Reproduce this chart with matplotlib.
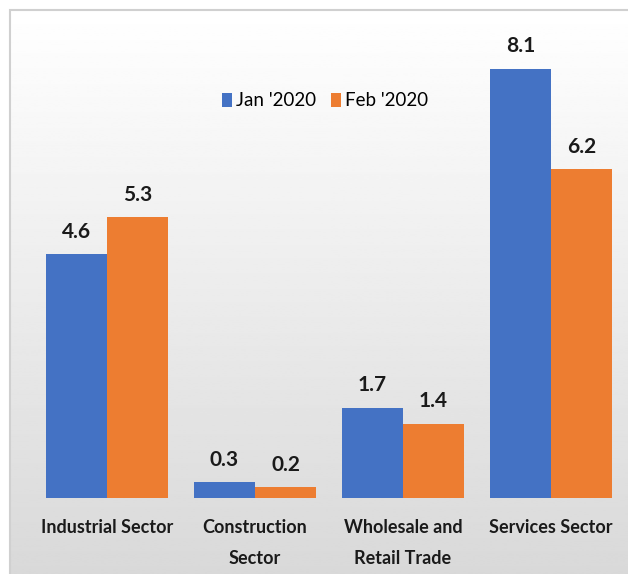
import numpy as np
import matplotlib.pyplot as plt
from matplotlib.patches import Rectangle

sectors = ['Industrial Sector', 'Construction\nSector', 'Wholesale and\nRetail Trade', 'Services Sector']
jan_2020 = [4.6, 0.3, 1.7, 8.1]
feb_2020 = [5.3, 0.2, 1.4, 6.2]
series_names = ["Jan '2020", "Feb '2020"]

blue = '#4472c4'
orange = '#ed7d31'
font = ['Lato', 'DejaVu Sans']

fig = plt.figure(figsize=(6.28, 5.74), dpi=100)
fig.patch.set_facecolor('white')

# axes covering whole figure; data coords chosen so baseline/scale match
px_w, px_h = 628, 574
x0_px, step_px = 107, 148
base_px, unit_px = 498, 53
ax = fig.add_axes([0, 0, 1, 1])
ax.set_xlim(-x0_px / step_px, (px_w - x0_px) / step_px)
ax.set_ylim(-(px_h - base_px) / unit_px, base_px / unit_px)
ax.axis('off')

# gradient panel
xl, xr = ax.get_xlim()
yb, yt = ax.get_ylim()
panel_left = xl + 10 / step_px
panel_top = yt - 10 / unit_px
grad = np.linspace(1.0, 0.85, 256).reshape(-1, 1)
ax.imshow(grad, cmap='gray', vmin=0, vmax=1, aspect='auto',
          extent=[panel_left, xr, yb, panel_top], zorder=0)
ax.add_patch(Rectangle((panel_left, yb - 1), xr - panel_left + 1, panel_top - yb + 1,
                       fill=False, ec='#d0d0d0', lw=1.5, zorder=1))

x = np.arange(len(sectors))
w = 61 / step_px
b1 = ax.bar(x - w / 2, jan_2020, w, color=blue, label=series_names[0], zorder=3)
b2 = ax.bar(x + w / 2, feb_2020, w, color=orange, label=series_names[1], zorder=3)

for bars, vals in ((b1, jan_2020), (b2, feb_2020)):
    for r, v in zip(bars, vals):
        ax.annotate(f'{v:.1f}', (r.get_x() + r.get_width() / 2, v),
                    xytext=(0, 9), textcoords='offset points',
                    ha='center', va='bottom', fontsize=15, fontweight='bold',
                    family=font, color='#1a1a1a', zorder=4)

for xi, lab in zip(x, sectors):
    ax.text(xi, -0.40, lab, ha='center', va='top', fontsize=13,
            fontweight='bold', family=font, color='#1a1a1a',
            linespacing=1.95, zorder=4)

ax.legend(loc='center', bbox_to_anchor=(325 / px_w, 1 - 101 / px_h),
          ncol=2, frameon=False, handlelength=0.55, handleheight=0.8,
          handletextpad=0.2, columnspacing=0.8,
          prop={'family': font, 'size': 13.5})

fig.savefig('out.png', dpi=100)
